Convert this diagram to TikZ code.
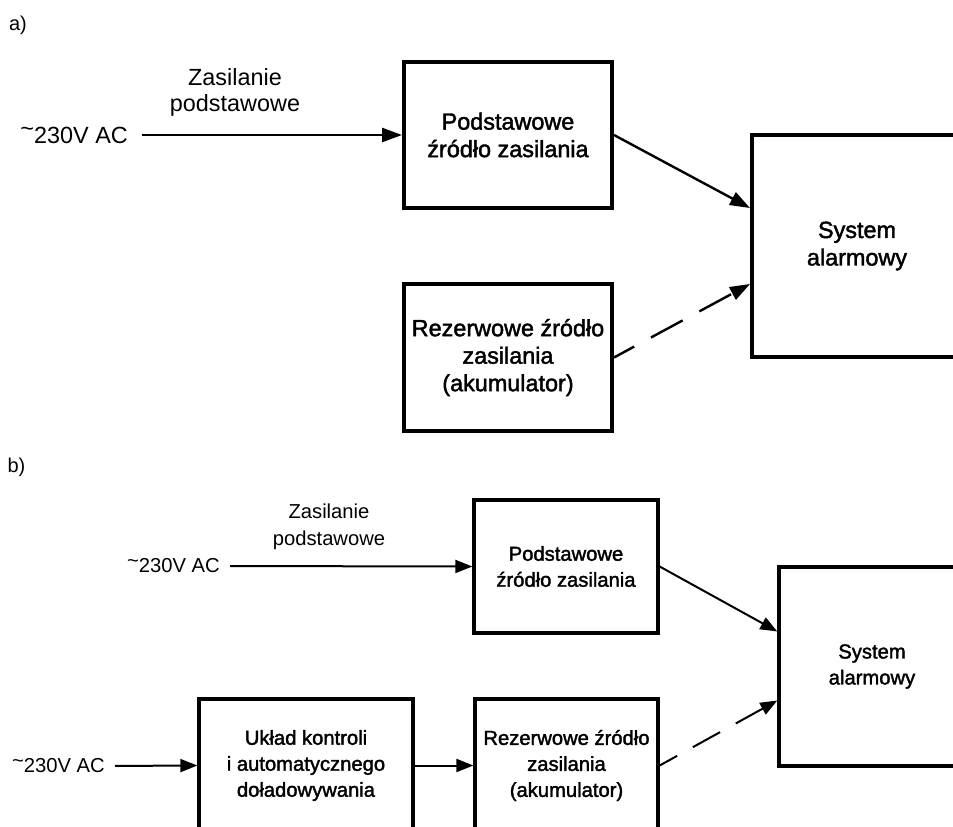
\documentclass[tikz,border=0pt]{standalone}
\usepackage{fontspec}
\setmainfont{Liberation Sans}
\newfontfamily\boxfont[FakeBold=1.8]{Liberation Sans}
\usetikzlibrary{arrows.meta}
\newcommand{\mytilde}{\raisebox{0.28em}{\textasciitilde}}
\begin{document}
\begin{tikzpicture}[x=1pt,y=-1pt,
  blockA/.style={draw, rectangle, line width=4pt, align=center, inner sep=0pt,
    font={\boxfont\fontsize{23.4}{27.5}\selectfont}},
  blockB/.style={draw, rectangle, line width=3.3pt, align=center, inner sep=0pt,
    font={\boxfont\fontsize{20.2}{26}\selectfont}},
  lblA/.style={inner sep=0pt, align=center, font={\fontsize{23.4}{26}\selectfont}},
  lblB/.style={inner sep=0pt, align=center, font={\fontsize{20.2}{27}\selectfont}},
  tagstyle/.style={inner sep=0pt, font={\fontsize{20}{24}\selectfont}},
  conA/.style={line width=2.4pt, -{Triangle[length=20pt,width=14pt]}},
  conB/.style={line width=2pt, -{Triangle[length=17pt,width=13pt]}},
  dashA/.style={dash pattern=on 36pt off 19pt, dash phase=13pt},
  dashB/.style={dash pattern=on 31pt off 18pt, dash phase=11pt}]
\useasboundingbox (0,0) rectangle (953,827);
\clip (0,0) rectangle (953,827);
\fill[white] (0,0) rectangle (953,827);

% ---------- a) ----------
\node[tagstyle] (tagA) at (18,25) {a)};
\node[lblA, anchor=east] (acA) at (128,135) {\mytilde230V AC};
\node[lblA] (zasA) at (235,92) {Zasilanie\\podstawowe};
\node[blockA, minimum width=208pt, minimum height=146pt] (P1) at (508,135) {Podstawowe\\źródło zasilania};
\node[blockA, minimum width=208pt, minimum height=147pt] (R1) at (508,357.5) {Rezerwowe źródło\\zasilania\\(akumulator)};
\node[blockA, minimum width=210pt, minimum height=222pt] (SA) at (857,246) {System\\alarmowy};

\draw[conA, shorten <=14pt] (acA.east) -- (P1.west);
\draw[conA] (P1.east) -- ([yshift=38pt]SA.west);
\draw[conA, dashA] (R1.east) -- ([yshift=-38pt]SA.west);

% ---------- b) ----------
\node[tagstyle] (tagB) at (16.5,467) {b)};
\node[lblB, anchor=east] (acB1) at (220,566) {\mytilde230V AC};
\node[lblB] (zasB) at (329,527) {Zasilanie\\podstawowe};
\node[blockB, minimum width=184pt, minimum height=133pt] (P2) at (566,566.5) {Podstawowe\\źródło zasilania};
\node[blockB, minimum width=214pt, minimum height=133pt] (UK) at (306,765.5) {Układ kontroli\\i automatycznego\\doładowywania};
\node[blockB, minimum width=183pt, minimum height=133pt] (R2) at (566.5,765.5) {Rezerwowe źródło\\zasilania\\(akumulator)};
\node[blockB, minimum width=186pt, minimum height=199pt] (SB) at (872,666.5) {System\\alarmowy};
\node[lblB, anchor=east] (acB2) at (105,766) {\mytilde230V AC};

\draw[conB, shorten <=10pt] (acB1.east) -- (P2.west);
\draw[conB] (P2.east) -- ([yshift=35pt]SB.west);
\draw[conB, dashB] (R2.east) -- ([yshift=-34pt]SB.west);
\draw[conB, shorten <=10pt] (acB2.east) -- (UK.west);
\draw[conB] (UK.east) -- (R2.west);
\end{tikzpicture}
\end{document}
